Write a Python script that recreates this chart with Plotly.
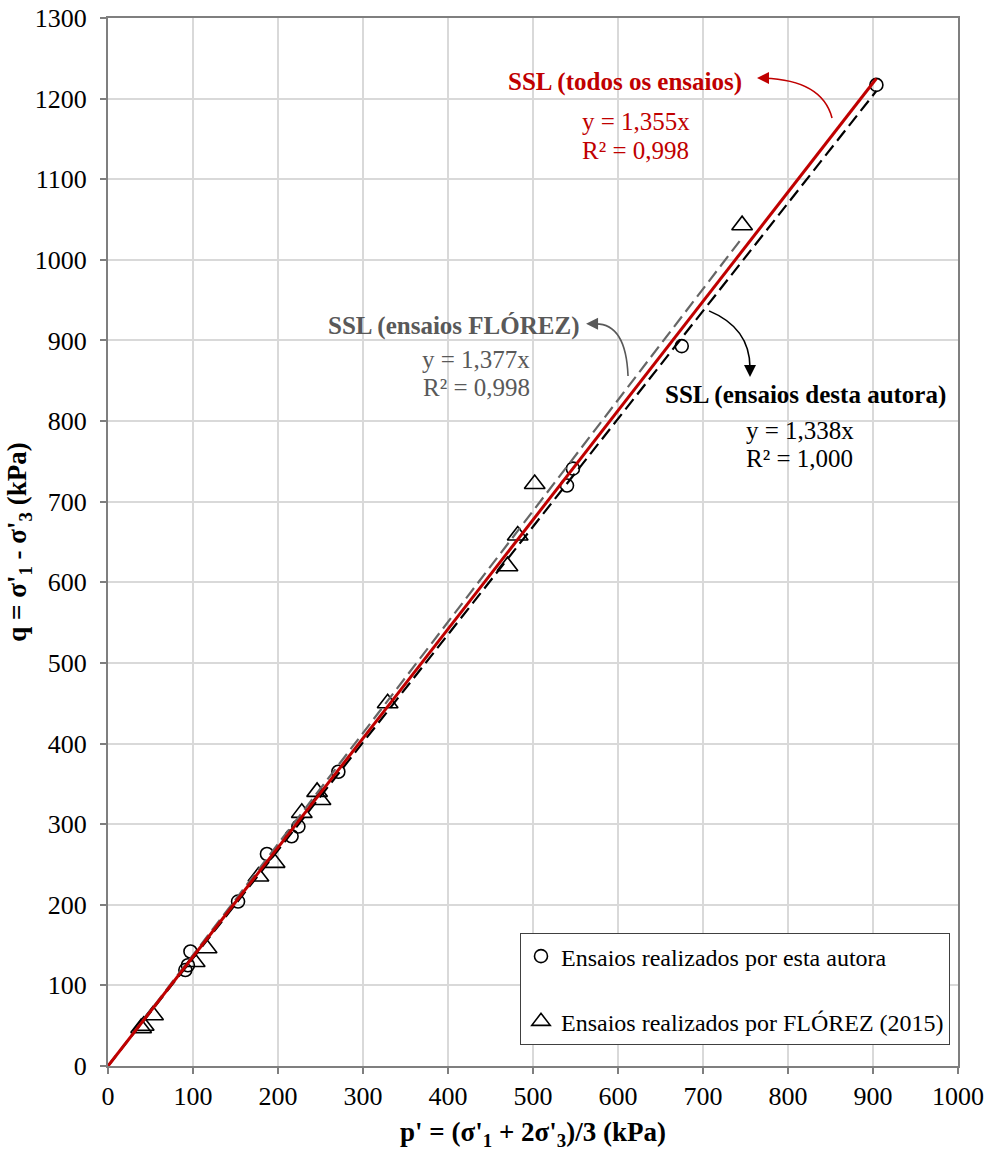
import plotly.graph_objects as go

# Critical state data: p' (kPa) and q (kPa)
autora_p = [91, 94, 97, 153, 187, 216, 224, 271, 540, 547, 675, 904]
autora_q = [119, 125, 142, 204, 263, 285, 297, 365, 720, 741, 893, 1217]

florez_p = [39, 42, 53, 102, 116, 177, 196, 228, 246, 250, 329, 470, 482, 502, 746]
florez_q = [47, 50, 63, 129, 146, 235, 252, 314, 340, 330, 450, 620, 658, 722, 1043]

# Fitted SSL slopes (through origin) and R²
slope_all, r2_all = 1.355, 0.998
slope_florez, r2_florez = 1.377, 0.998
slope_autora, r2_autora = 1.338, 1.000

x_ticks = list(range(0, 1001, 100))
y_ticks = list(range(0, 1301, 100))

FONT = "Liberation Serif"
RED = "#C00000"
GRAY = "#595959"
TXT = 25


def fmt(v, nd=3):
    return f"{v:.{nd}f}".replace(".", ",")


fig = go.Figure()

fig.add_trace(go.Scatter(
    x=autora_p, y=autora_q, mode="markers",
    name="Ensaios realizados por esta autora", legendgroup="a",
    marker=dict(symbol="circle-open", size=13, color="black", line=dict(width=1.6)),
))
fig.add_trace(go.Scatter(
    x=florez_p, y=florez_q, mode="markers",
    name="Ensaios realizados por FLÓREZ (2015)", legendgroup="b",
    marker=dict(symbol="triangle-up-open", size=18, color="black", line=dict(width=1.6)),
))

# SSL lines
xf = [0, max(florez_p)]
fig.add_trace(go.Scatter(x=xf, y=[slope_florez * v for v in xf], mode="lines",
                         line=dict(color="#666666", width=2.2, dash="13px,6px"),
                         showlegend=False, hoverinfo="skip"))
xa = [0, max(autora_p)]
fig.add_trace(go.Scatter(x=xa, y=[slope_autora * v for v in xa], mode="lines",
                         line=dict(color="black", width=2.2, dash="13px,6px"),
                         showlegend=False, hoverinfo="skip"))
xt = [0, max(autora_p + florez_p)]
fig.add_trace(go.Scatter(x=xt, y=[slope_all * v for v in xt], mode="lines",
                         line=dict(color=RED, width=3),
                         showlegend=False, hoverinfo="skip"))

annotations = []


def label(x, y, text, color, size=TXT, bold=False):
    if bold:
        text = f"<b>{text}</b>"
    annotations.append(dict(x=x, y=y, xref="x", yref="y", text=text, showarrow=False,
                            font=dict(family=FONT, size=size, color=color),
                            xanchor="center", yanchor="middle"))


label(608, 1221, "SSL (todos os ensaios)", RED, bold=True)
label(621, 1171, f"y = {fmt(slope_all)}x", RED)
label(621, 1136, f"R² = {fmt(r2_all)}", RED)

label(406, 918, "SSL (ensaios FLÓREZ)", GRAY, bold=True)
label(433, 877, f"y = {fmt(slope_florez)}x", GRAY)
label(433, 842, f"R² = {fmt(r2_florez)}", GRAY)

label(821, 832, "SSL (ensaios desta autora)", "black", bold=True)
label(814, 788, f"y = {fmt(slope_autora)}x", "black")
label(814, 753, f"R² = {fmt(r2_autora)}", "black")

# Curved leader arrows (curve + arrowhead marker at the tip)
shapes = [
    dict(type="path", xref="x", yref="y", path="M 851.8,1176 Q 840,1223 772,1225.2",
         line=dict(color=RED, width=1.6)),
    dict(type="path", xref="x", yref="y", path="M 611.8,856 Q 609.4,920.6 574,920.6",
         line=dict(color=GRAY, width=1.6)),
    dict(type="path", xref="x", yref="y", path="M 707.1,936.7 Q 755.3,915.6 755.3,866",
         line=dict(color="black", width=1.6)),
]
heads = [
    (763.5, 1225.6, "arrow-left", RED),
    (562.4, 920.6, "arrow-left", GRAY),
    (755.3, 854.8, "arrow-down", "black"),
]
for hx, hy, sym, col in heads:
    fig.add_trace(go.Scatter(x=[hx], y=[hy], mode="markers", showlegend=False,
                             hoverinfo="skip",
                             marker=dict(symbol=sym, size=12, color=col,
                                         line=dict(width=0))))

axis_common = dict(
    showline=True, linecolor="#7f7f7f", linewidth=2, mirror=True,
    showgrid=True, gridcolor="#d9d9d9", gridwidth=2,
    ticks="outside", ticklen=6, tickwidth=2, tickcolor="#7f7f7f",
    tickfont=dict(family=FONT, size=26, color="black"),
    zeroline=False, automargin=False,
)

fig.update_layout(
    width=985, height=1151,
    margin=dict(l=108, r=27, t=18, b=85, autoexpand=False),
    paper_bgcolor="white", plot_bgcolor="white",
    font=dict(family=FONT, color="black"),
    xaxis=dict(range=[0, 1000], tickvals=x_ticks, ticklabelstandoff=0,
               title=dict(text="<b>p' = (σ'<sub>1</sub> + 2σ'<sub>3</sub>)/3 (kPa)</b>",
                          font=dict(family=FONT, size=27), standoff=16),
               **axis_common),
    yaxis=dict(range=[0, 1300], tickvals=y_ticks, ticklabelstandoff=8,
               title=dict(text="<b>q = σ'<sub>1</sub> - σ'<sub>3</sub> (kPa)</b>",
                          font=dict(family=FONT, size=27), standoff=0),
               **axis_common),
    legend=dict(x=0.4847, y=0.02, xanchor="left", yanchor="bottom",
                bgcolor="white", bordercolor="#404040", borderwidth=1,
                font=dict(family=FONT, size=24, color="black"),
                traceorder="grouped", tracegroupgap=31),
    annotations=annotations,
    shapes=shapes,
    showlegend=True,
)

fig.write_html("out.html")
